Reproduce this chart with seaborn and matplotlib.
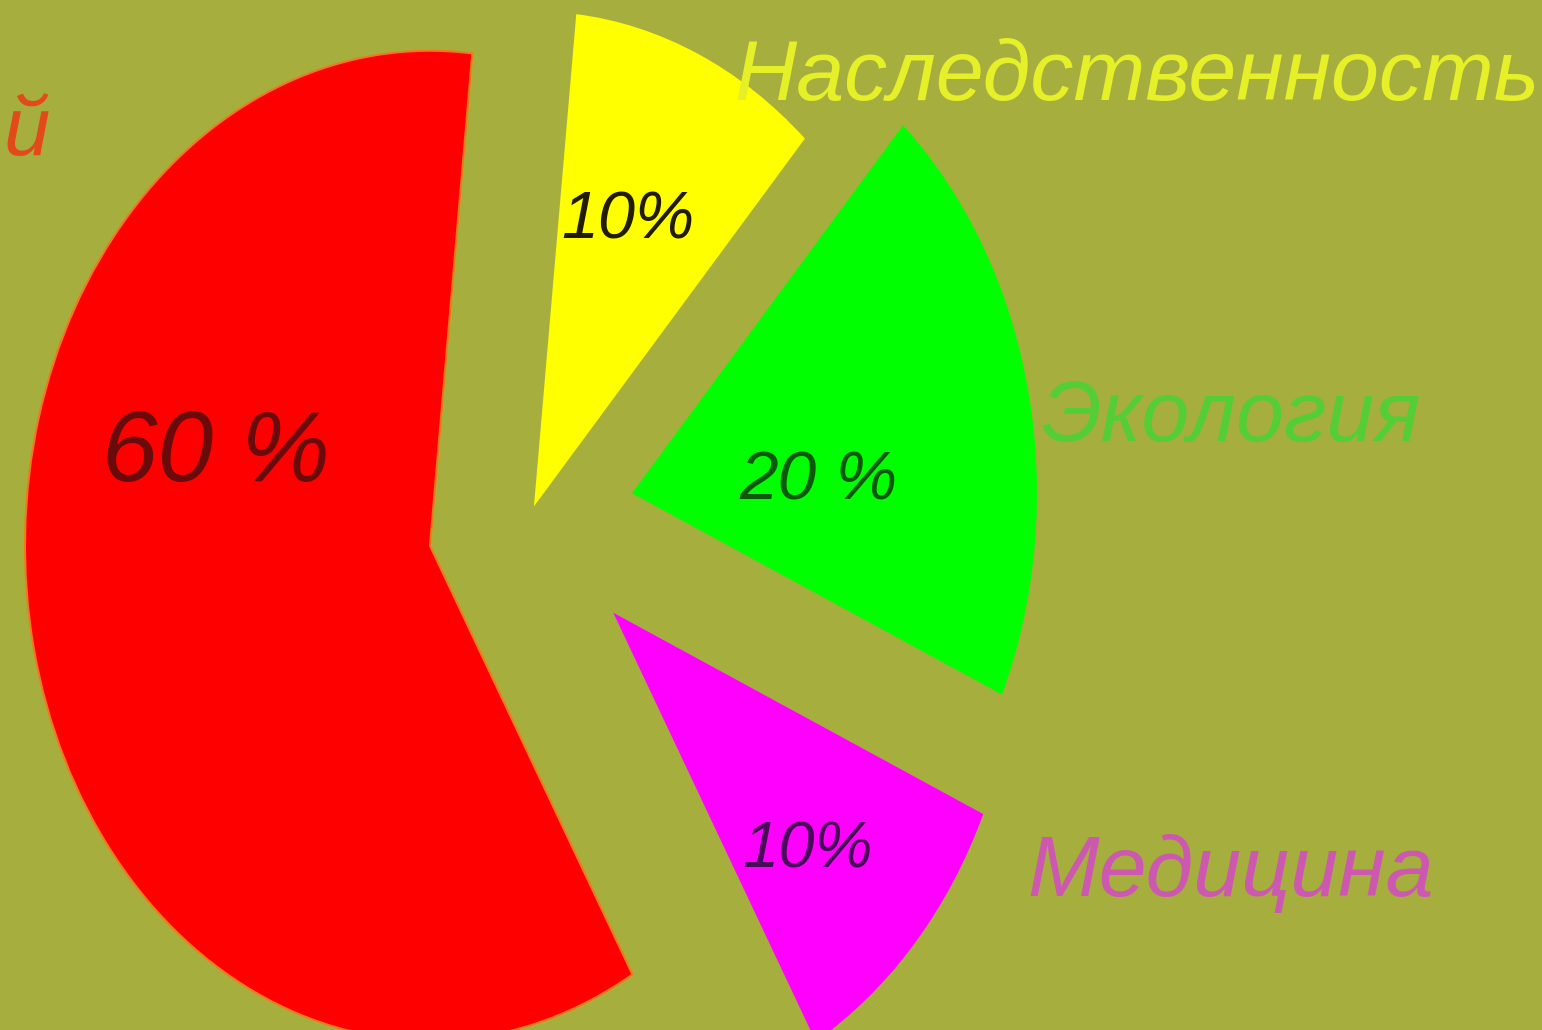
import numpy as np
import matplotlib
matplotlib.use('Agg')
import matplotlib.pyplot as plt
import seaborn as sns

# Data
factors = ['Экология', 'Наследственность', 'й', 'Медицина']
shares = [20, 10, 60, 10]
pct_texts = ['20 %', '10%', '60 %', '10%']

# Styling
bg = '#a6af3e'
wedge_colors = ['#00ff00', '#ffff00', '#ff0000', '#ff00ff']
pct_colors = ['#0b5a0b', '#221d00', '#6a0a0a', '#4a0a5a']
name_colors = ['#3fd632', '#e6f028', '#e24a1a', '#d449c4']
explode = [0.26, 0.03, 0.25, 0.28]
pct_angles = [3, 68, 161, -45]
pct_dist = [0.46, 0.62, 0.56, 0.68]
pct_sizes = [50, 48, 72, 47]

sns.set_theme(style='white', rc={'figure.facecolor': bg, 'axes.facecolor': bg})
plt.rcParams['font.family'] = ['Liberation Sans', 'DejaVu Sans']

fig = plt.figure(figsize=(15.42, 10.30), dpi=100)
ax = fig.add_axes([0, 0, 1, 1])
ax.set_facecolor(bg)

wedges, _ = ax.pie(shares, colors=wedge_colors, explode=explode, startangle=-24,
                   counterclock=True, wedgeprops={'linewidth': 0})
wedges[2].set_edgecolor('#f07a1a')
wedges[2].set_linewidth(1.5)

# stretched (elliptical) pie like the reference
ax.set_aspect('auto')
ax.set_xlim(-529 / 405, (1542 - 529) / 405)
ax.set_ylim(-510 / 495, 520 / 495)
ax.axis('off')

# percentage labels inside wedges
for w, txt, ang, d, c, s in zip(wedges, pct_texts, pct_angles, pct_dist, pct_colors, pct_sizes):
    cx, cy = w.center
    a = np.deg2rad(ang)
    ax.text(cx + d * np.cos(a), cy + d * np.sin(a), txt, ha='center', va='center',
            fontsize=s, style='italic', color=c)

# category names
ax.text(0.737, 0.903, factors[1], transform=ax.transAxes, ha='center', va='baseline',
        fontsize=62, style='italic', color=name_colors[1])
ax.text(0.798, 0.572, factors[0], transform=ax.transAxes, ha='center', va='baseline',
        fontsize=62, style='italic', color=name_colors[0], alpha=0.8)
ax.text(0.798, 0.130, factors[3], transform=ax.transAxes, ha='center', va='baseline',
        fontsize=62, style='italic', color=name_colors[3], alpha=0.85)
ax.text(0.002, 0.85, factors[2], transform=ax.transAxes, ha='left', va='baseline',
        fontsize=60, style='italic', color=name_colors[2])

plt.savefig('out.png', dpi=100, facecolor=bg)
